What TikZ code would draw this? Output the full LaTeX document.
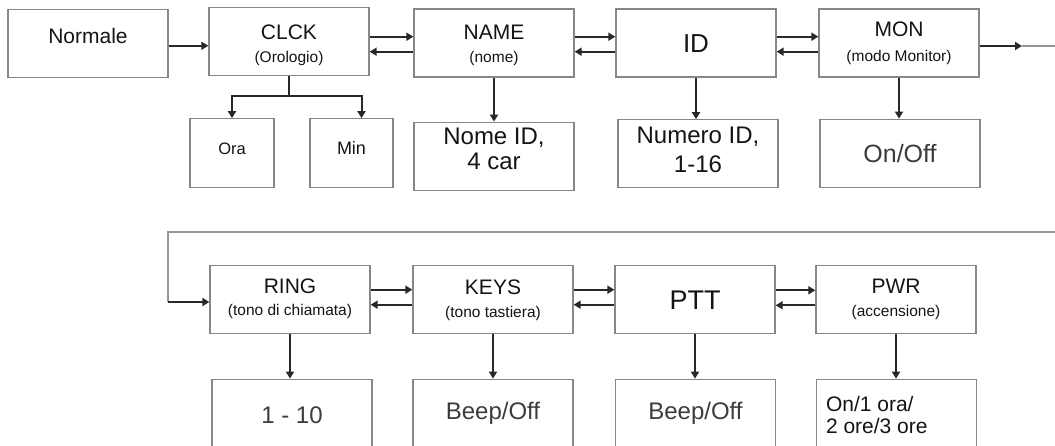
\documentclass[tikz,border=0pt]{standalone}
\usepackage{fontspec}
\setmainfont{Liberation Sans}
\usetikzlibrary{arrows.meta,calc}
\newcommand\fsz[1]{\fontsize{#1}{1.15\dimexpr#1pt\relax}\selectfont}
\newcommand\subt[1]{{\fsz{15.5}#1}}
% text line whose baseline sits #1 below the node centre
\newcommand\ctext[2]{\makebox[0pt]{\raisebox{-#1}[0pt][0pt]{#2}}}

\begin{document}
\begin{tikzpicture}[x=1pt,y=-1pt,line join=miter,
  box/.style={draw=boxcol,line width=1.3pt,minimum width=160pt,minimum height=68pt,
    inner sep=0pt,text=textcol,font=\fsz{21}},
  arr/.style={-{Triangle[length=7pt,width=8pt]},draw=arrcol,line width=2pt},
  wire/.style={draw=arrcol,line width=2pt},
  loopline/.style={draw=loopcol,line width=1.2pt}]
  \definecolor{boxcol}{RGB}{135,135,135}
  \definecolor{arrcol}{RGB}{40,40,40}
  \definecolor{loopcol}{RGB}{150,150,150}
  \definecolor{textcol}{RGB}{20,20,20}
  \definecolor{valcol}{RGB}{60,60,60}

  \useasboundingbox (0,0) rectangle (1055,446);

  % ---- top row: menu items ----
  \node[box] (normale) at (88,43.3) {\ctext{0pt}{Normale}};
  \node[box] (clck) at (289,41.3) {\ctext{-2pt}{CLCK}\ctext{21.5pt}{\subt{(Orologio)}}};
  \node[box] (name) at (494,43) {\ctext{-3.7pt}{NAME}\ctext{19.5pt}{\subt{(nome)}}};
  \node[box,font=\fsz{26}] (id) at (696,43) {\ctext{10pt}{ID}};
  \node[box] (mon) at (899,43) {\ctext{-6pt}{MON}\ctext{18.7pt}{\subt{(modo Monitor)}}};

  % values under the top row
  \node[box,minimum width=84pt,minimum height=69pt,font=\fsz{16.5}] (ora) at (232,153.3) {\ctext{1.7pt}{Ora}};
  \node[box,minimum width=83pt,minimum height=69pt,font=\fsz{18}] (min) at (351.5,153.3) {\ctext{1pt}{Min}};
  \node[box,font=\fsz{24}] (nomeid) at (494,156.2) {\ctext{-12pt}{Nome ID,}\ctext{13pt}{4 car}};
  \node[box,font=\fsz{24}] (numid) at (698,153.8) {\ctext{-10.3pt}{Numero ID,}\ctext{19pt}{1-16}};
  \node[box,font=\fsz{25},text=valcol] (monval) at (900,153.3) {\ctext{9.7pt}{On/Off}};

  % ---- bottom row ----
  \node[box] (ring) at (290,299.8) {\ctext{-6.5pt}{RING}\ctext{16pt}{\subt{(tono di chiamata)}}};
  \node[box] (keys) at (493,299.2) {\ctext{-5pt}{KEYS}\ctext{18pt}{\subt{(tono tastiera)}}};
  \node[box,font=\fsz{27}] (ptt) at (695,299.2) {\ctext{10pt}{PTT}};
  \node[box] (pwr) at (896,299.8) {\ctext{-5.8pt}{PWR}\ctext{17pt}{\subt{(accensione)}}};

  \node[box,font=\fsz{24},text=valcol] (ringval) at (292,413.3) {\ctext{10pt}{1 - 10}};
  \node[box,font=\fsz{24},text=valcol] (keysval) at (493,413.3) {\ctext{6.5pt}{Beep/Off}};
  \node[box,font=\fsz{24},text=valcol] (pttval) at (695.5,413.3) {\ctext{6.5pt}{Beep/Off}};
  \node[box,font=\fsz{21}] (pwrval) at (896.5,413.3)
    {\ctext{-1.5pt}{\makebox[141pt][l]{On/1 ora/}}\ctext{20pt}{\makebox[141pt][l]{2 ore/3 ore}}};

  % ---- horizontal arrows ----
  \draw[arr] ([yshift=-2.5pt]normale.east) -- ([yshift=-2.5pt]normale.east -| clck.west);
  \foreach \a/\b in {clck/name,name/id,id/mon} {
    \draw[arr] ([yshift=6.3pt]\b.west -| \a.east) -- ([yshift=6.3pt]\b.west);
    \draw[arr] ([yshift=-8.7pt]\b.west) -- ([yshift=-8.7pt]\b.west -| \a.east);
  }
  \foreach \a/\b in {ring/keys,keys/ptt,ptt/pwr} {
    \draw[arr] ([yshift=9.5pt]\b.west -| \a.east) -- ([yshift=9.5pt]\b.west);
    \draw[arr] ([yshift=-5.5pt]\b.west) -- ([yshift=-5.5pt]\b.west -| \a.east);
  }

  % exit on the right and loop back to RING
  \coordinate (monout) at (1022,46);
  \coordinate (topexit) at (1055,46);
  \coordinate (loopin) at (1055,232);
  \coordinate (loopbend) at (168,302);
  \draw[arr] (mon.east |- monout) -- (monout);
  \draw[loopline] (monout) -- (topexit);
  \draw[loopline] (loopin) -| (loopbend);
  \draw[arr] (loopbend) -- (loopbend -| ring.west);

  % ---- down arrows ----
  \coordinate (clckfork) at (289,96);
  \draw[wire] (clck.south) -- (clckfork);
  \draw[arr] (clckfork) -| (ora.north);
  \draw[arr] (clckfork) -| ([xshift=10pt]min.north);
  \foreach \a/\b in {name/nomeid,id/numid,mon/monval,ring/ringval,keys/keysval,ptt/pttval,pwr/pwrval}
    \draw[arr] (\a.south) -- (\a.south |- \b.north);
\end{tikzpicture}
\end{document}
